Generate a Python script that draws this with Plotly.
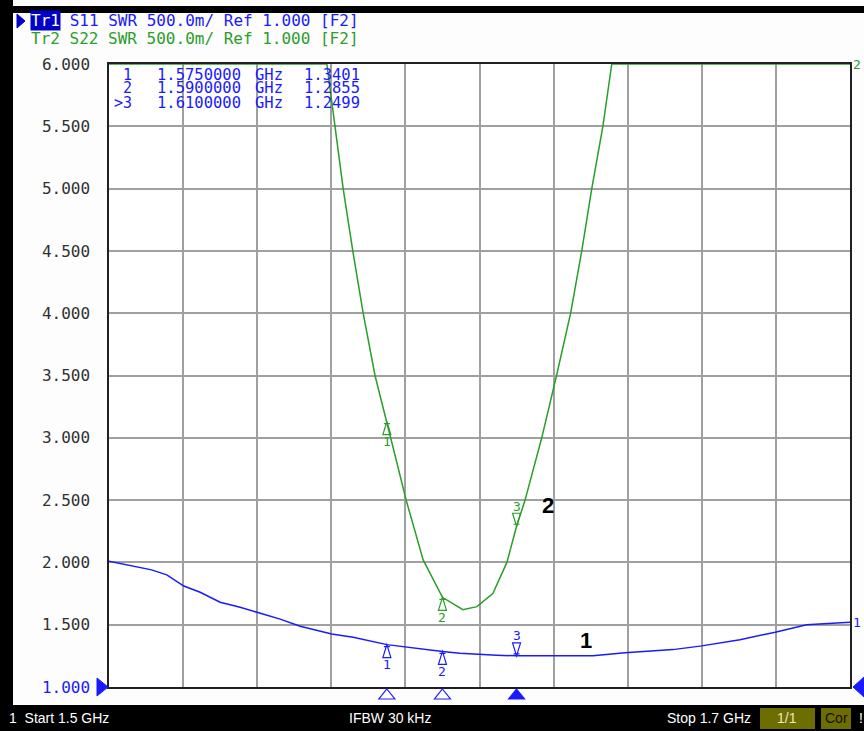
import plotly.graph_objects as go

# S11 (Tr1) SWR
s11_freq = [1.5000, 1.5115, 1.5156, 1.5202, 1.5246, 1.5300, 1.5354, 1.5401, 1.5462, 1.5516,
            1.5601, 1.5659, 1.5750, 1.5900, 1.5947, 1.6047, 1.6100, 1.6306, 1.6393, 1.6522,
            1.6600, 1.6703, 1.6798, 1.6883, 1.7000]
s11_swr = [2.01, 1.94, 1.90, 1.81, 1.76, 1.68, 1.64, 1.60, 1.545, 1.487,
           1.425, 1.40, 1.3401, 1.2855, 1.27, 1.255, 1.2499, 1.251, 1.275, 1.30,
           1.33, 1.38, 1.44, 1.50, 1.52]

# S22 (Tr2) SWR, clipped at the 6.000 top of the screen
s22_freq = [1.5000, 1.5588, 1.5610, 1.5632, 1.5658, 1.5686, 1.5718, 1.5750, 1.5772, 1.5802,
            1.5848, 1.5900, 1.5955, 1.5993, 1.6036, 1.6074, 1.6100, 1.6123, 1.6168, 1.6208,
            1.6246, 1.6276, 1.6303, 1.6333, 1.6357, 1.7000]
s22_swr = [6.0, 6.0, 5.5, 5.0, 4.5, 4.0, 3.5, 3.13, 2.86, 2.5,
           2.02, 1.72, 1.62, 1.645, 1.75, 2.0, 2.29, 2.5, 3.0, 3.5,
           4.0, 4.5, 5.0, 5.5, 6.0, 6.0]

marker_ids = ["1", "2", "3"]
marker_freq = [1.575, 1.590, 1.610]
marker_s11 = [1.3401, 1.2855, 1.2499]
marker_s22 = [3.13, 1.72, 2.29]

y_ticks = [1.0, 1.5, 2.0, 2.5, 3.0, 3.5, 4.0, 4.5, 5.0, 5.5, 6.0]

BLUE = "#1a1aff"
GREEN = "#2a9d2a"
MONO = "DejaVu Sans Mono"

# plot area in screen pixels (left/right/top/bottom)
L, R, T, B = 109, 850, 64, 687


def px(x):
    return (x - L) / (R - L)


def py(y):
    return (B - y) / (B - T)


fig = go.Figure()

fig.add_trace(go.Scatter(x=s11_freq, y=s11_swr, mode="lines",
                         line=dict(color=BLUE, width=1.5), cliponaxis=False))
fig.add_trace(go.Scatter(x=s22_freq, y=s22_swr, mode="lines",
                         line=dict(color=GREEN, width=1.5), cliponaxis=False))

# stimulus markers under the x axis (3 is the active one)
for i, f in enumerate(marker_freq):
    fig.add_shape(type="path", xref="x", yref="paper", xsizemode="pixel", ysizemode="pixel",
                  xanchor=f, yanchor=0, layer="above",
                  path="M 0,-2 L 8,-12 L -8,-12 Z",
                  fillcolor=BLUE if i == 2 else "white",
                  line=dict(color=BLUE, width=1.2))

# markers on the traces: small narrow triangles with the tip on the trace
for i, (f, a, b) in enumerate(zip(marker_freq, marker_s11, marker_s22)):
    for val, col in [(a, BLUE), (b, GREEN)]:
        d = -1 if i < 2 else 1
        fig.add_shape(type="path", xref="x", yref="y", xsizemode="pixel", ysizemode="pixel",
                      xanchor=f, yanchor=val, layer="above",
                      path=f"M 0,0 L 4,{13 * d} L -4,{13 * d} Z M -3,{2 * d} L 3,{2 * d}",
                      line=dict(color=col, width=1.2))
        fig.add_annotation(x=f, y=val, text=marker_ids[i], showarrow=False,
                           yanchor="middle", yshift=20 * d,
                           font=dict(family=MONO, size=13, color=col))

# trace labels
fig.add_annotation(x=1.6185, y=2.46, text="<b>2</b>", showarrow=False,
                   font=dict(family="Arial", size=22, color="black"))
fig.add_annotation(x=1.6287, y=1.37, text="<b>1</b>", showarrow=False,
                   font=dict(family="Arial", size=22, color="black"))
fig.add_annotation(x=1.7, y=s22_swr[-1], text="2", showarrow=False, xanchor="left",
                   yanchor="middle", xshift=1, font=dict(family=MONO, size=13, color=GREEN))
fig.add_annotation(x=1.7, y=s11_swr[-1], text="1", showarrow=False, xanchor="left",
                   yanchor="middle", xshift=1, font=dict(family=MONO, size=13, color=BLUE))


def label(x, y, txt, color, size=16, family=MONO, anchor="left", bg=None):
    fig.add_annotation(xref="paper", yref="paper", x=px(x), y=py(y),
                       text=txt.replace(" ", "&nbsp;"), showarrow=False,
                       xanchor=anchor, yanchor="middle", bgcolor=bg, borderpad=0,
                       font=dict(family=family, size=size, color=color))


# header lines
label(30, 21, "Tr1", "white", bg="#0000c8")
label(59, 21, " S11 SWR 500.0m/ Ref 1.000 [F2]", BLUE)
label(30, 38, "Tr2 S22 SWR 500.0m/ Ref 1.000 [F2]", GREEN)

# marker table, one field at a time so the columns line up with the screen
for k, (m, f, v) in enumerate(zip(marker_ids, marker_freq, marker_s11)):
    y = 74.5 + 14 * k
    label(127, y, m, BLUE, 15, anchor="center")
    if k == 2:
        label(118, y, ">", BLUE, 15, anchor="center")
    label(156, y, f"{f:.7f}", BLUE, 15.5)
    label(254, y, "GHz", BLUE, 15.5)
    label(303, y, f"{v:.4f}", BLUE, 15.5)

# status bar
SANS = "Liberation Sans"
label(8, 718, "1  Start 1.5 GHz", "white", 14, SANS)
label(390, 718, "IFBW 30 kHz", "white", 14, SANS, "center")
label(752, 718, "Stop 1.7 GHz", "white", 14, SANS, "right")
label(858, 718, "!", "white", 14, SANS)
label(787, 718, "1/1", "#e8e8c0", 14, SANS, "center")
label(836, 718, "Cor", "#101000", 14, SANS, "center")


def rect(x0, y0, x1, y1, color):
    fig.add_shape(type="rect", xref="paper", yref="paper", layer="below",
                  x0=px(x0), x1=px(x1), y0=py(y0), y1=py(y1),
                  fillcolor=color, line=dict(width=0))


def tri(points, color):
    path = "M " + " L ".join(f"{px(a)},{py(b)}" for a, b in points) + " Z"
    fig.add_shape(type="path", xref="paper", yref="paper", path=path, layer="above",
                  fillcolor=color, line=dict(color=color, width=1))


# black frame and status bar
rect(0, 0, 13, 731, "black")
rect(0, 6, 864, 13, "black")
rect(0, 705, 864, 731, "black")
rect(760, 708, 815, 729, "#6e6e00")
rect(821, 708, 851, 729, "#6e6e00")

# reference level arrows and header pointer
tri([(97, 678), (108, 687), (97, 696)], BLUE)
tri([(864, 677), (853, 687), (864, 697)], BLUE)
tri([(17, 14), (25, 21), (17, 28)], "#0000c8")

fig.update_xaxes(range=[1.5, 1.7], dtick=0.02, tick0=1.5, showticklabels=False,
                 showgrid=True, gridcolor="#a0a0a0", gridwidth=1.5,
                 showline=True, linecolor="#202020", linewidth=1.5, mirror=True,
                 zeroline=False)
fig.update_yaxes(range=[1, 6], tickvals=y_ticks,
                 ticktext=[f'<span style="color:{BLUE}">{v:.3f}</span>' if v == 1.0 else f"{v:.3f}"
                           for v in y_ticks],
                 tickfont=dict(family=MONO, size=16, color="#303030"),
                 ticks="", ticklabelstandoff=14,
                 showgrid=True, gridcolor="#a0a0a0", gridwidth=1.5,
                 showline=True, linecolor="#202020", linewidth=1.5, mirror=True,
                 zeroline=False)

fig.update_layout(
    width=864, height=731,
    margin=dict(l=L, r=864 - R, t=T, b=731 - B),
    paper_bgcolor="#fdfdfd", plot_bgcolor="white",
    showlegend=False,
)

fig.write_html("out.html", config={"displayModeBar": False},
               post_script="document.body.style.margin='0px';")
